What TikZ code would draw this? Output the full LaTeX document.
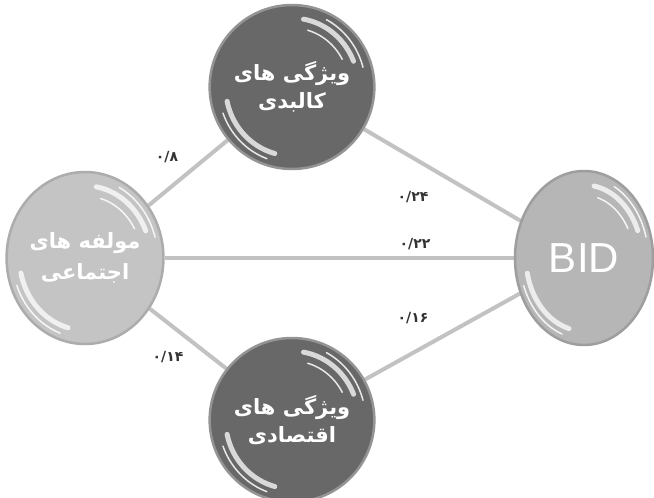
\documentclass[tikz,border=0pt]{standalone}
\usepackage{fontspec}
\setmainfont{DejaVu Sans}
\newfontfamily\arabicfont[Script=Arabic]{DejaVu Sans}
\newfontfamily\latinfont{Liberation Sans}
\TeXXeTstate=1
\usetikzlibrary{shapes.geometric,backgrounds}
\definecolor{darkball}{RGB}{104,104,104}
\definecolor{darkrim}{RGB}{148,148,148}
\definecolor{lightball}{RGB}{196,196,196}
\definecolor{lightrim}{RGB}{172,172,172}
\definecolor{bidball}{RGB}{182,182,182}
\definecolor{bidrim}{RGB}{158,158,158}
\definecolor{linkgray}{RGB}{194,194,194}
\tikzset{
  ball/.style={ellipse, inner sep=0pt, line width=2.5pt, text=white, align=center,
    font=\arabicfont\bfseries\fontsize{21}{28}\selectfont},
  darkb/.style={ball, fill=darkball, draw=darkrim, minimum width=158pt, minimum height=164pt},
  lightb/.style={ball, fill=lightball, draw=lightrim, minimum width=156pt, minimum height=172pt,
    font=\arabicfont\bfseries\fontsize{21}{31}\selectfont},
  bidb/.style={ball, fill=bidball, draw=bidrim, minimum width=138pt, minimum height=174pt,
    font=\latinfont\fontsize{42}{44}\selectfont},
  link/.style={draw=linkgray, line width=4pt},
  wlabel/.style={font=\arabicfont\bfseries\fontsize{14}{14}\selectfont, text=black!80, inner sep=0pt},
  gloss/.style={draw=white, line width=5pt, opacity=.75, line cap=round},
  glossthin/.style={draw=white, line width=1.5pt, opacity=.85, line cap=round},
}
\begin{document}
\begin{tikzpicture}[x=1pt,y=-1pt]
\useasboundingbox (0,0) rectangle (654,498);
% nodes
\node[darkb]  (top) at (292,87)  {\beginR ویژگی های\endR\\\beginR کالبدی\endR};
\node[lightb] (soc) at (85,258)  {\beginR مولفه های\endR\\\beginR اجتماعی\endR};
\node[bidb]   (bid) at (584,258) {BID};
\node[darkb]  (eco) at (292,420) {\beginR ویژگی های\endR\\\beginR اقتصادی\endR};
% gloss highlights
\foreach \n/\rx/\ry in {top/79/82, soc/78/86, bid/69/87, eco/79/82}{
  \begin{scope}[shift={(\n.center)}]
    \draw[gloss] plot[domain=-80:-22, samples=30] ({0.84*\rx*cos(\x)}, {0.84*\ry*sin(\x)});
    \draw[glossthin] plot[domain=-74:-28, samples=30] ({0.72*\rx*cos(\x)}, {0.72*\ry*sin(\x)});
    \draw[glossthin] plot[domain=-62:-15, samples=30] ({0.93*\rx*cos(\x)}, {0.93*\ry*sin(\x)});
    \draw[gloss] plot[domain=105:168, samples=30] ({0.84*\rx*cos(\x)}, {0.84*\ry*sin(\x)});
    \draw[glossthin] plot[domain=110:160, samples=30] ({0.93*\rx*cos(\x)}, {0.93*\ry*sin(\x)});
  \end{scope}
}
% connectors
\begin{scope}[on background layer]
  \fill[white] (0,0) rectangle (654,498);
  \draw[link] (soc) -- (top);
  \draw[link] (top) -- (bid);
  \draw[link] (soc) -- (bid);
  \draw[link] (soc) -- (eco);
  \draw[link] (eco) -- (bid);
\end{scope}
% weights
\node[wlabel] (w1) at (167,157) {۰/۸};
\node[wlabel] (w2) at (413,197) {۰/۲۴};
\node[wlabel] (w3) at (415,244) {۰/۲۲};
\node[wlabel] (w4) at (413,318) {۰/۱۶};
\node[wlabel] (w5) at (168,357) {۰/۱۴};
\end{tikzpicture}
\end{document}
